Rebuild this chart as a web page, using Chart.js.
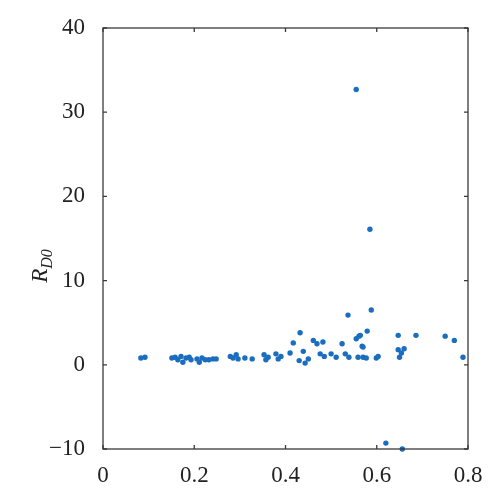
<!DOCTYPE html>
<html>
<head>
<meta charset="utf-8">
<script src="https://cdn.jsdelivr.net/npm/chart.js@4/dist/chart.umd.min.js"></script>
<style>
    html, body { margin: 0; padding: 0; background: #fff; }
    #wrap { width: 500px; height: 496px; }
</style>
</head>
<body>
<div id="wrap"><canvas id="grafico" width="500" height="496"></canvas></div>
<script>
// dati
const valoriX = [
    0.083, 0.092, 0.151, 0.158, 0.164, 0.171, 0.175, 0.182, 0.189, 0.193,
    0.206, 0.211, 0.217, 0.224, 0.232, 0.241, 0.248, 0.279, 0.285, 0.292,
    0.296, 0.311, 0.327, 0.353, 0.357, 0.362, 0.379, 0.384, 0.390, 0.410,
    0.417, 0.432, 0.439, 0.430, 0.443, 0.450, 0.461, 0.469, 0.482, 0.476,
    0.485, 0.500, 0.511, 0.524, 0.531, 0.539, 0.537, 0.555, 0.561, 0.568,
    0.579, 0.559, 0.570, 0.577, 0.588, 0.570, 0.599, 0.603, 0.555, 0.585,
    0.647, 0.686, 0.647, 0.654, 0.660, 0.650, 0.750, 0.770, 0.789, 0.620,
    0.656, 0.564
]
const valoriY = [
    0.8, 0.9, 0.8, 0.9, 0.6, 1.0, 0.3, 0.8, 0.9, 0.6,
    0.7, 0.3, 0.8, 0.6, 0.6, 0.7, 0.7, 1.0, 0.8, 1.2,
    0.7, 0.8, 0.7, 1.2, 0.6, 0.9, 1.3, 0.7, 1.0, 1.4,
    2.6, 3.8, 1.6, 0.5, 0.2, 0.7, 2.9, 2.5, 2.7, 1.3,
    1.0, 1.3, 0.9, 2.5, 1.3, 0.9, 5.9, 3.1, 3.4, 2.2,
    4.0, 0.9, 0.9, 0.8, 6.5, 2.1, 0.8, 1.0, 32.7, 16.1,
    3.5, 3.5, 1.8, 1.4, 1.9, 0.9, 3.4, 2.9, 0.9, -9.3,
    -10.0, 3.5
]
const tickX = [0, 0.2, 0.4, 0.6, 0.8]
const tickY = [-10, 0, 10, 20, 30, 40]

const colorePunti = '#1a6dbf'
const coloreAssi = '#3a3a3a'
const fontSerif = '"Liberation Serif", serif'

const punti = valoriX.map((x, i) => ({ x: x, y: valoriY[i] }))

// cornice e tacche verso l'interno, etichetta asse y con pedice
const cornice = {
    id: 'cornice',
    afterDraw(chart) {
        const ctx = chart.ctx
        const a = chart.chartArea
        const sx = chart.scales.x
        const sy = chart.scales.y
        ctx.save()
        ctx.strokeStyle = coloreAssi
        ctx.lineWidth = 1.3
        ctx.strokeRect(a.left, a.top, a.right - a.left, a.bottom - a.top)
        const t = 4
        tickX.forEach(v => {
            const p = sx.getPixelForValue(v)
            ctx.beginPath()
            ctx.moveTo(p, a.bottom); ctx.lineTo(p, a.bottom - t)
            ctx.moveTo(p, a.top); ctx.lineTo(p, a.top + t)
            ctx.stroke()
        })
        tickY.forEach(v => {
            const p = sy.getPixelForValue(v)
            ctx.beginPath()
            ctx.moveTo(a.left, p); ctx.lineTo(a.left + t, p)
            ctx.moveTo(a.right, p); ctx.lineTo(a.right - t, p)
            ctx.stroke()
        })

        // R_D0 ruotata
        ctx.translate(40, 266)
        ctx.rotate(-Math.PI / 2)
        ctx.fillStyle = '#222'
        ctx.textBaseline = 'alphabetic'
        ctx.textAlign = 'left'
        ctx.font = 'italic 23px ' + fontSerif
        const w = ctx.measureText('R').width
        ctx.font = 'italic 16px ' + fontSerif
        const w2 = ctx.measureText('D0').width
        const start = -(w + w2) / 2
        ctx.font = 'italic 23px ' + fontSerif
        ctx.fillText('R', start, 7)
        ctx.font = 'italic 16px ' + fontSerif
        ctx.fillText('D0', start + w, 12)
        ctx.restore()
    }
}

new Chart(document.getElementById('grafico'), {
    type: 'scatter',
    data: {
        datasets: [{
            data: punti,
            backgroundColor: colorePunti,
            borderColor: colorePunti,
            borderWidth: 0,
            pointRadius: 2.7
        }]
    },
    options: {
        responsive: false,
        animation: false,
        clip: false,
        layout: { padding: { top: 28, right: 32, left: 0, bottom: 0 } },
        plugins: {
            legend: { display: false },
            tooltip: { enabled: false }
        },
        scales: {
            x: {
                type: 'linear',
                min: 0,
                max: 0.8,
                afterBuildTicks: s => { s.ticks = tickX.map(v => ({ value: v })) },
                afterFit: s => { s.height = 47 },
                grid: { display: false },
                border: { display: false },
                ticks: {
                    color: '#222',
                    padding: 5,
                    font: { family: fontSerif, size: 23 },
                    callback: v => v === 0 ? '0' : v.toFixed(1)
                }
            },
            y: {
                type: 'linear',
                min: -10,
                max: 40,
                afterBuildTicks: s => { s.ticks = tickY.map(v => ({ value: v })) },
                afterFit: s => { s.width = 103 },
                grid: { display: false },
                border: { display: false },
                ticks: {
                    color: '#222',
                    padding: 10,
                    font: { family: fontSerif, size: 23 },
                    callback: v => String(v).replace('-', '\u2212')
                }
            }
        }
    },
    plugins: [cornice]
})
</script>
</body>
</html>
